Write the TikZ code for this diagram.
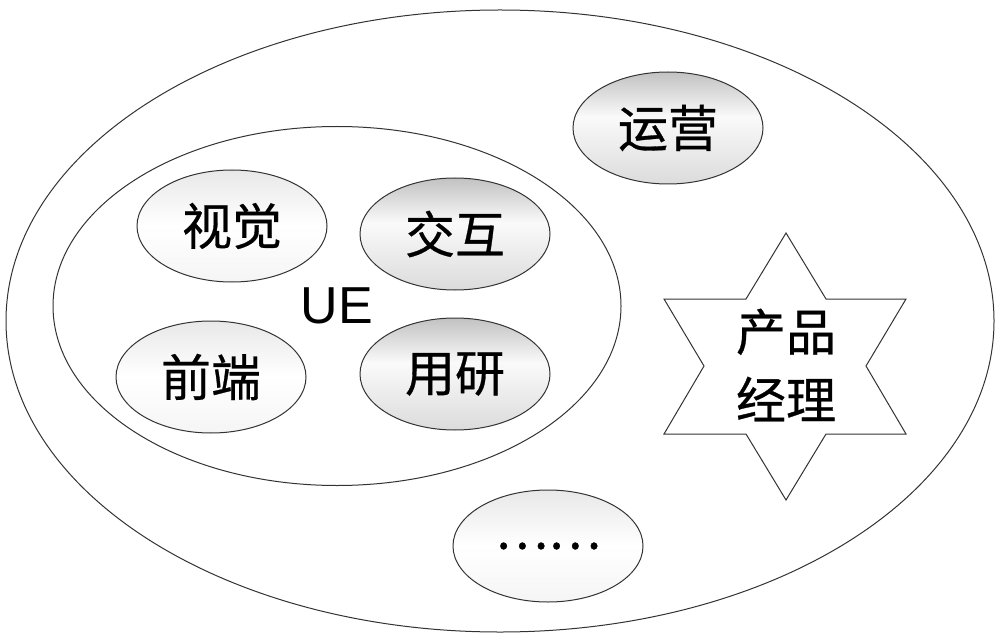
\documentclass[tikz,border=0pt]{standalone}
\usepackage{fontspec}
\setmainfont{Liberation Sans}
\newfontfamily\cjk[FakeBold=0.6]{Noto Sans CJK SC}
\usetikzlibrary{shapes.geometric}
\pgfdeclareverticalshading{lightgrad}{100bp}{color(0bp)=(black!4); color(25bp)=(black!4); color(50bp)=(white); color(75bp)=(black!9); color(100bp)=(black!9)}
\pgfdeclareverticalshading{darkgrad}{100bp}{color(0bp)=(black!14); color(25bp)=(black!14); color(55bp)=(black!2); color(75bp)=(black!24); color(100bp)=(black!24)}
\tikzset{
  line/.style={draw=black!80, line width=1pt},
  bubble/.style={line, ellipse, minimum width=190pt, minimum height=112pt, inner sep=0pt,
    font=\cjk\fontsize{50}{60}\selectfont},
  lightbubble/.style={bubble, shading=lightgrad},
  darkbubble/.style={bubble, shading=darkgrad},
}
\begin{document}
\begin{tikzpicture}[x=1pt,y=-1pt]
\useasboundingbox (0,0) rectangle (1000,644);
\fill[white] (0,0) rectangle (1000,644);
% outer ellipse
\node[line, ellipse, minimum width=988pt, minimum height=622pt, inner sep=0pt] (outer) at (500,321) {};
% UE ellipse
\node[line, ellipse, minimum width=568pt, minimum height=359pt, inner sep=0pt,
  font=\fontsize{52}{60}\selectfont] (ue) at (337,306) {UE};
% bubbles
\node[lightbubble] (shijue) at (232,226) {视觉};
\node[darkbubble]  (jiaohu) at (455,234) {交互};
\node[lightbubble] (qianduan) at (211,377) {前端};
\node[darkbubble]  (yongyan) at (455,374) {用研};
\node[darkbubble]  (yunying) at (668,128) {运营};
\node[lightbubble] (more) at (548,546) {……};
% star
\draw[line, fill=white] (786,233) -- (826,299) -- (906,299) -- (866,366) -- (906,434) -- (826,434)
  -- (786,500) -- (746,434) -- (664,434) -- (704,366) -- (664,299) -- (746,299) -- cycle;
\node[align=center, font=\cjk\fontsize{50}{68}\selectfont, inner sep=0pt] (pm) at (786,365) {产品\\经理};
\end{tikzpicture}
\end{document}
